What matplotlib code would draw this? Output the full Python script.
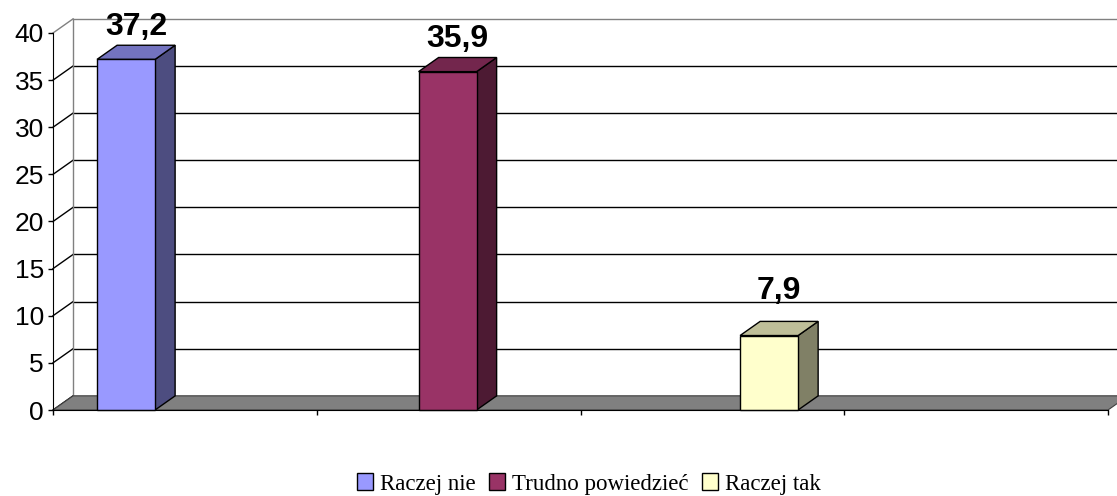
import matplotlib
matplotlib.use("Agg")
import matplotlib.pyplot as plt
from matplotlib.patches import Rectangle, Polygon, Patch

# data
series = ["Raczej nie", "Trudno powiedzieć", "Raczej tak"]
values = [37.2, 35.9, 7.9]
labels = ["37,2", "35,9", "7,9"]
front_colors = ["#9999FF", "#993366", "#FFFFCC"]
top_colors = ["#7373BF", "#73264D", "#BFBF99"]
side_colors = ["#4D4D80", "#4D1A33", "#808066"]
yticks = [0, 5, 10, 15, 20, 25, 30, 35, 40]
n_slots = 4

# 3d look (data units)
DX = 0.076
DY = 1.5
BAR_W = 0.22
BAR_OFF = 0.167
BAR_STEP = 1.219
LABEL_PAD = [2.6, 2.6, 3.9]

fig = plt.figure(figsize=(11.17, 4.96), dpi=100)
ax = fig.add_axes([53 / 1117, 86 / 496, 1055 / 1117, 377 / 496])
ax.set_xlim(0, n_slots)
ax.set_ylim(0, 40)

# back wall
for v in yticks:
    c = "#808080" if v == 40 else "black"
    ax.plot([DX, n_slots + DX + 0.1], [v + DY, v + DY], color=c, lw=1, clip_on=False, zorder=1)
    ax.plot([0, DX], [v, v + DY], color=c, lw=1, clip_on=False, zorder=1)
ax.plot([DX, DX], [DY, 40 + DY], color="#808080", lw=1, clip_on=False, zorder=1)

# floor
floor = Polygon([(0, 0), (n_slots, 0), (n_slots + DX, DY), (DX, DY)],
                closed=True, facecolor="#808080", edgecolor="#404040", lw=0.8,
                clip_on=False, zorder=2)
ax.add_patch(floor)

# bars
for i, (v, lab) in enumerate(zip(values, labels)):
    x0 = BAR_OFF + i * BAR_STEP
    x1 = x0 + BAR_W
    ax.add_patch(Rectangle((x0, 0), BAR_W, v, facecolor=front_colors[i],
                           edgecolor="black", lw=1, clip_on=False, zorder=4))
    ax.add_patch(Polygon([(x1, 0), (x1 + DX, DY), (x1 + DX, v + DY), (x1, v)],
                         closed=True, facecolor=side_colors[i], edgecolor="black",
                         lw=1, clip_on=False, zorder=3))
    ax.add_patch(Polygon([(x0, v), (x1, v), (x1 + DX, v + DY), (x0 + DX, v + DY)],
                         closed=True, facecolor=top_colors[i], edgecolor="black",
                         lw=1, clip_on=False, zorder=3))
    ax.text(x0 + (BAR_W + DX) / 2, v + LABEL_PAD[i], lab, ha="center", va="baseline",
            fontsize=23, fontweight="bold", family="Liberation Sans", zorder=5)

# axes
for s in ["top", "right"]:
    ax.spines[s].set_visible(False)
ax.spines["left"].set_zorder(5)
ax.spines["bottom"].set_zorder(5)
ax.set_yticks(yticks)
ax.set_yticklabels([str(t) for t in yticks], fontsize=19, family="Liberation Sans")
ax.set_xticks(range(n_slots + 1))
ax.set_xticklabels([])
ax.tick_params(axis="both", direction="out", length=3.6, width=1, pad=3)
ax.patch.set_visible(False)

handles = [Patch(facecolor=c, edgecolor="black", lw=1) for c in front_colors]
fig.legend(handles, series, loc="center", bbox_to_anchor=(589 / 1117, 1 - 484 / 496), ncol=3,
           frameon=False, prop={"family": "Liberation Serif", "size": 16.5},
           handlelength=0.7, handleheight=0.7, handletextpad=0.3, columnspacing=0.6,
           borderpad=0.2)

fig.savefig("out.png", dpi=100)
